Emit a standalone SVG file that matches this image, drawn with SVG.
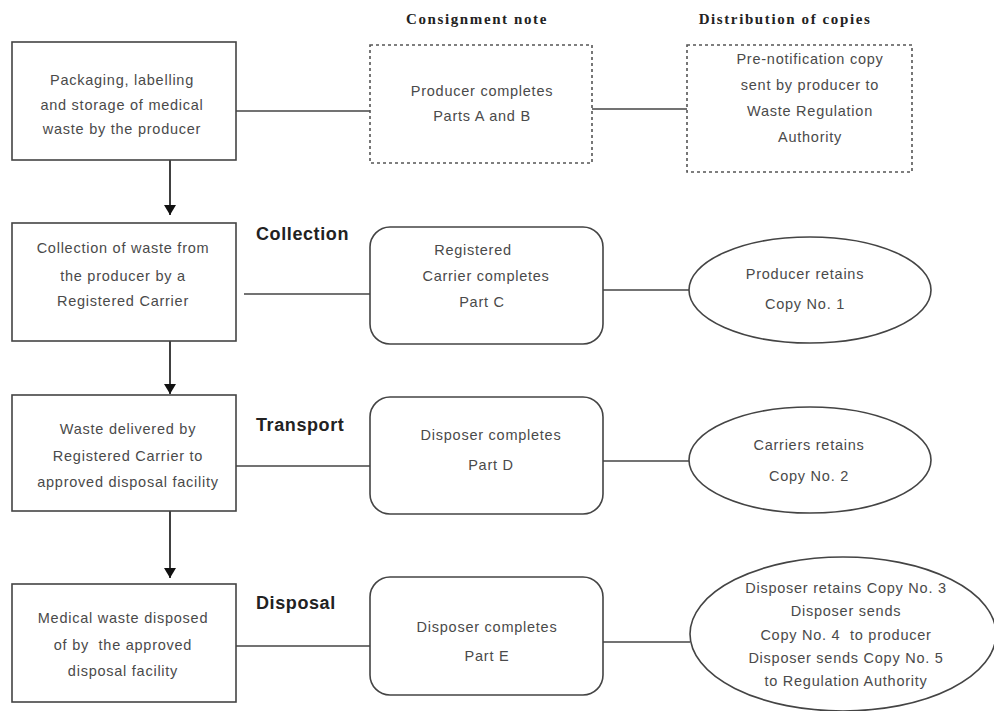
<svg xmlns="http://www.w3.org/2000/svg" width="994" height="711" viewBox="0 0 994 711">
<defs>
<marker id="ah" viewBox="0 0 10 12" refX="10" refY="6" markerWidth="10" markerHeight="12" markerUnits="userSpaceOnUse" orient="auto">
<path d="M0,0 L10,6 L0,12 Z" fill="#111"/>
</marker>
<style>
.box{fill:#fff;stroke:#444;stroke-width:1.6}
.dash{fill:#fff;stroke:#555;stroke-width:1.6;stroke-dasharray:3,3}
.ln{stroke:#444;stroke-width:1.6;fill:none}
.arr{stroke:#111;stroke-width:1.6;fill:none}
.t{font-family:"Liberation Sans",Arial,sans-serif;font-size:14.5px;fill:#4a4a4a;text-anchor:middle;letter-spacing:0.75px;white-space:pre}
.h{font-family:"Liberation Serif","Times New Roman",serif;font-size:15px;font-weight:bold;fill:#222;text-anchor:middle;letter-spacing:1.6px}
.s{font-family:"Liberation Sans",Arial,sans-serif;font-size:18px;font-weight:bold;fill:#222;letter-spacing:0.6px}
</style>
</defs>
<rect width="994" height="711" fill="#fff"/>
<g id="headers">
<text class="h" x="477" y="24">Consignment note</text>
<text class="h" x="785" y="24">Distribution of copies</text>
</g>
<g id="connectors">
<line class="ln" x1="236" y1="111" x2="370" y2="111"/>
<line class="ln" x1="592" y1="109" x2="687" y2="109"/>
<line class="ln" x1="244" y1="294" x2="370" y2="294"/>
<line class="ln" x1="603" y1="290" x2="689" y2="290"/>
<line class="ln" x1="236" y1="466" x2="370" y2="466"/>
<line class="ln" x1="603" y1="461" x2="689" y2="461"/>
<line class="ln" x1="236" y1="646" x2="370" y2="646"/>
<line class="ln" x1="603" y1="642" x2="690" y2="642"/>
<line class="arr" x1="170" y1="160" x2="170" y2="215" marker-end="url(#ah)"/>
<line class="arr" x1="170" y1="341" x2="170" y2="394" marker-end="url(#ah)"/>
<line class="arr" x1="170" y1="511" x2="170" y2="578" marker-end="url(#ah)"/>
</g>
<g id="n1">
<rect class="box" x="12" y="42" width="224" height="118"/>
<text class="t" x="122" y="85">Packaging, labelling</text>
<text class="t" x="122" y="110">and storage of medical</text>
<text class="t" x="122" y="134">waste by the producer</text>
</g>
<g id="n2">
<rect class="dash" x="370" y="45" width="222" height="118"/>
<text class="t" x="482" y="96">Producer completes</text>
<text class="t" x="482" y="121">Parts A and B</text>
</g>
<g id="n3">
<rect class="dash" x="687" y="45" width="225" height="127"/>
<text class="t" x="810" y="64">Pre-notification copy</text>
<text class="t" x="810" y="90">sent by producer to</text>
<text class="t" x="810" y="116">Waste Regulation</text>
<text class="t" x="810" y="142">Authority</text>
</g>
<g id="n4">
<rect class="box" x="12" y="223" width="224" height="118"/>
<text class="t" x="123" y="253">Collection of waste from</text>
<text class="t" x="123" y="281">the producer by a</text>
<text class="t" x="123" y="306">Registered Carrier</text>
</g>
<g id="lbl-collection"><text class="s" x="256" y="240">Collection</text></g>
<g id="n5">
<rect class="box" x="370" y="227" width="233" height="117" rx="20" ry="20"/>
<text class="t" x="473" y="255">Registered</text>
<text class="t" x="486" y="281">Carrier completes</text>
<text class="t" x="482" y="307">Part C</text>
</g>
<g id="n6">
<ellipse class="box" cx="810" cy="290" rx="121" ry="53"/>
<text class="t" x="805" y="279">Producer retains</text>
<text class="t" x="805" y="309">Copy No. 1</text>
</g>
<g id="n7">
<rect class="box" x="12" y="395" width="224" height="116"/>
<text class="t" x="128" y="434">Waste delivered by</text>
<text class="t" x="128" y="461">Registered Carrier to</text>
<text class="t" x="128" y="487">approved disposal facility</text>
</g>
<g id="lbl-transport"><text class="s" x="256" y="431">Transport</text></g>
<g id="n8">
<rect class="box" x="370" y="397" width="233" height="117" rx="20" ry="20"/>
<text class="t" x="491" y="440">Disposer completes</text>
<text class="t" x="491" y="470">Part D</text>
</g>
<g id="n9">
<ellipse class="box" cx="810" cy="460" rx="121" ry="53"/>
<text class="t" x="809" y="450">Carriers retains</text>
<text class="t" x="809" y="481">Copy No. 2</text>
</g>
<g id="n10">
<rect class="box" x="12" y="584" width="224" height="118"/>
<text class="t" x="123" y="623">Medical waste disposed</text>
<text class="t" x="123" y="650">of by  the approved</text>
<text class="t" x="123" y="676">disposal facility</text>
</g>
<g id="lbl-disposal"><text class="s" x="256" y="609">Disposal</text></g>
<g id="n11">
<rect class="box" x="370" y="577" width="233" height="118" rx="20" ry="20"/>
<text class="t" x="487" y="632">Disposer completes</text>
<text class="t" x="487" y="661">Part E</text>
</g>
<g id="n12">
<ellipse class="box" cx="843" cy="634" rx="153" ry="77"/>
<text class="t" x="846" y="593">Disposer retains Copy No. 3</text>
<text class="t" x="846" y="616">Disposer sends</text>
<text class="t" x="846" y="640">Copy No. 4  to producer</text>
<text class="t" x="846" y="663">Disposer sends Copy No. 5</text>
<text class="t" x="846" y="686">to Regulation Authority</text>
</g>
</svg>
